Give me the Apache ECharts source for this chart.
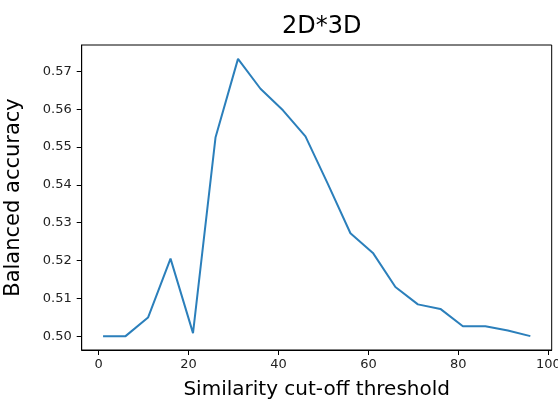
<!DOCTYPE html>
<html>
<head>
<meta charset="utf-8">
<script src="https://cdn.jsdelivr.net/npm/echarts@6/dist/echarts.min.js"></script>
<style>html,body{margin:0;padding:0;background:#fff}#c{width:558px;height:399px}</style>
</head>
<body>
<div id="c"></div>
<script>
const thresholds = [1, 6, 11, 16, 21, 26, 31, 36, 41, 46, 51, 56, 61, 66, 71, 76, 81, 86, 91, 96];
const accuracy = [0.5000, 0.5000, 0.5049, 0.5205, 0.5008, 0.5525, 0.5733, 0.5654, 0.5597, 0.5528,
                  0.5402, 0.5272, 0.5220, 0.5130, 0.5084, 0.5072, 0.5026, 0.5026, 0.5015, 0.5000];
const xTicks = [0, 20, 40, 60, 80, 100];
const yTicks = [0.50, 0.51, 0.52, 0.53, 0.54, 0.55, 0.56, 0.57];

const font = 'DejaVu Sans';
const chart = echarts.init(document.getElementById('c'), null, {renderer: 'canvas'});
const xr = thresholds[thresholds.length - 1] - thresholds[0];
const yMin = Math.min(...accuracy), yMax = Math.max(...accuracy);
const yr = yMax - yMin;
chart.setOption({
  animation: false,
  backgroundColor: '#fff',
  title: {
    text: '2D*3D', left: 316.7, top: 10, textAlign: 'center',
    textStyle: {fontFamily: font, fontSize: 24, fontWeight: 'normal', color: '#000'}
  },
  grid: {left: 81.7, right: 6.3, top: 45, bottom: 49, show: true, borderColor: '#000', borderWidth: 1,
    backgroundColor: 'transparent', containLabel: false, outerBoundsMode: 'none'},
  xAxis: {
    type: 'value',
    min: thresholds[0] - 0.05 * xr, max: thresholds[thresholds.length - 1] + 0.05 * xr,
    name: 'Similarity cut-off threshold', nameLocation: 'middle', nameGap: 30,
    nameTextStyle: {fontFamily: font, fontSize: 20, color: '#000'},
    axisLine: {show: true, onZero: false, lineStyle: {color: '#000', width: 1}},
    axisTick: {show: true, length: 5, customValues: xTicks, lineStyle: {color: '#000'}},
    axisLabel: {customValues: xTicks, fontFamily: font, fontSize: 13, color: '#222', margin: 8},
    splitLine: {show: false}
  },
  yAxis: {
    type: 'value',
    min: yMin - 0.05 * yr, max: yMax + 0.05 * yr,
    name: 'Balanced accuracy', nameLocation: 'middle', nameGap: 58,
    nameTextStyle: {fontFamily: font, fontSize: 21, color: '#000'},
    axisLine: {show: true, onZero: false, lineStyle: {color: '#000', width: 1}},
    axisTick: {show: true, length: 5, customValues: yTicks, lineStyle: {color: '#000'}},
    axisLabel: {customValues: yTicks, fontFamily: font, fontSize: 13, color: '#222', margin: 10,
      formatter: v => v.toFixed(2)},
    splitLine: {show: false}
  },
  series: [{
    type: 'line',
    data: thresholds.map((t, i) => [t, accuracy[i]]),
    showSymbol: false,
    lineStyle: {color: '#2b7fbb', width: 2},
    itemStyle: {color: '#2b7fbb'}
  }]
});
</script>
</body>
</html>
